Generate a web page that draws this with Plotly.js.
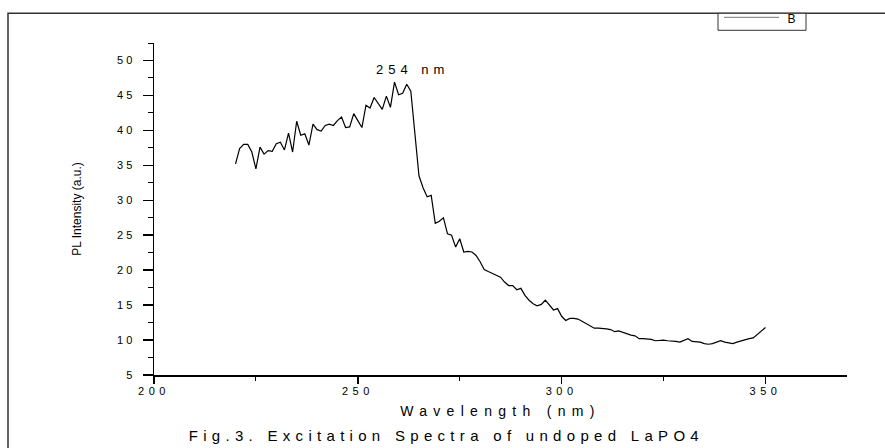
<!DOCTYPE html>
<html>
<head>
<meta charset="utf-8">
<script src="https://cdn.plot.ly/plotly-3.0.1.min.js"></script>
<style>
  html, body { margin: 0; padding: 0; background: #fff; }
  #chart { width: 885px; height: 448px; }
  .xtick text { letter-spacing: 4.5px; }
  .ytick text { letter-spacing: 3px; }
  .g-xtitle text { letter-spacing: 6.3px; }
  .annotation-text { letter-spacing: 5px; }
  .caption .annotation-text { letter-spacing: 5.3px; }
  .legendlabel .annotation-text { letter-spacing: 0; }
</style>
</head>
<body>
<div id="chart"></div>
<script>
// Wavelength (nm)
const wavelength = [
  220,221,222,223,224,225,226,227,228,229,
  230,231,232,233,234,235,236,237,238,239,
  240,241,242,243,244,245,246,247,248,249,
  250,251,252,253,254,255,256,257,258,259,
  260,261,262,263,264,265,266,267,268,269,
  270,271,272,273,274,275,276,277,278,279,
  280,281,282,283,284,285,286,287,288,289,
  290,291,292,293,294,295,296,297,298,299,
  300,301,302,303,304,305,306,307,308,309,
  310,311,312,313,314,315,316,317,318,319,
  320,321,322,323,324,325,326,327,328,329,
  330,331,332,333,334,335,336,337,338,339,
  340,341,342,343,344,345,346,347,348,349,
  350
];
// PL Intensity (a.u.)
const intensity = [
  35.2,37.4,38.0,38.0,36.9,34.5,37.6,36.6,37.1,37.0,
  38.1,38.3,37.2,39.6,36.9,41.3,39.3,39.5,37.9,40.9,
  40.1,39.9,40.7,40.9,40.7,41.4,41.9,40.4,40.5,42.4,
  41.4,40.4,43.6,43.2,44.7,43.8,43.0,44.9,43.3,46.9,
  45.1,45.3,46.6,45.6,39.5,33.5,31.8,30.5,30.7,26.7,
  27.0,27.5,25.2,25.0,23.3,24.5,22.6,22.7,22.6,22.1,
  21.2,20.1,19.8,19.5,19.2,19.0,18.3,17.8,17.8,17.2,
  17.4,16.4,15.7,15.2,14.9,15.1,15.7,15.0,14.3,14.5,
  13.4,12.8,13.1,13.1,13.0,12.7,12.4,12.0,11.7,11.7,
  11.7,11.6,11.5,11.2,11.3,11.1,10.8,10.7,10.6,10.2,
  10.2,10.2,10.1,9.9,10.0,10.0,9.9,9.9,9.8,9.7,
  10.0,10.2,9.8,9.8,9.7,9.5,9.4,9.5,9.7,9.9,
  9.7,9.6,9.5,9.7,9.9,10.0,10.2,10.3,10.8,11.4,
  11.8
];
const seriesName = "B";
const xTickVals = [200, 250, 300, 350];
const yTickVals = [5, 10, 15, 20, 25, 30, 35, 40, 45, 50];
const peakLabel = "254 nm";
const peakLabelPos = [263.3, 48.7];
const xTitle = "Wavelength (nm)";
const yTitle = "PL Intensity (a.u.)";
const caption = "Fig.3. Excitation Spectra of undoped LaPO4";

const FONT = "Liberation Sans, Arial, Helvetica, sans-serif";

// plot area in pixels: x 154..847, y 42.7..375
const L = 154, R = 847, T = 42.7, B = 375;
const px = v => (v - L) / (R - L);
const py = v => (B - v) / (B - T);

const trace = {
  x: wavelength, y: intensity, name: seriesName,
  type: "scatter", mode: "lines",
  line: { color: "#000", width: 1.2 },
  showlegend: false
};

const layout = {
  width: 885, height: 448,
  margin: { l: 154, r: 38, t: 43, b: 73, pad: 0 },
  paper_bgcolor: "#fff", plot_bgcolor: "#fff",
  font: { family: FONT, color: "#000", size: 11 },
  showlegend: false,
  xaxis: {
    range: [200, 370], showgrid: false, zeroline: false,
    showline: true, linecolor: "#000", linewidth: 1.5,
    ticks: "outside", ticklen: 7, tickwidth: 1.5, tickcolor: "#000",
    tickvals: xTickVals, ticktext: xTickVals.map(String),
    tickfont: { family: FONT, size: 11 },
    ticklabelstandoff: -2,
    minor: { tickvals: [225, 275, 325], ticks: "outside", ticklen: 4, tickwidth: 1, tickcolor: "#000" },
    title: { text: xTitle, font: { family: FONT, size: 14 }, standoff: 10 },
    automargin: false
  },
  yaxis: {
    range: [5, 52.5], showgrid: false, zeroline: false,
    showline: true, linecolor: "#000", linewidth: 1.5,
    ticks: "outside", ticklen: 10, tickwidth: 1.5, tickcolor: "#000",
    tickvals: yTickVals, ticktext: yTickVals.map(String),
    tickfont: { family: FONT, size: 11 },
    ticklabelstandoff: 5,
    minor: { dtick: 2.5, tick0: 5, ticks: "outside", ticklen: 5, tickwidth: 1, tickcolor: "#000" },
    title: { text: yTitle, font: { family: FONT, size: 12 }, standoff: 33 },
    automargin: false
  },
  shapes: [
    { // figure frame
      type: "rect", xref: "paper", yref: "paper",
      x0: px(8), x1: px(900), y0: py(470), y1: py(13),
      line: { color: "#333", width: 1.5 }, fillcolor: "rgba(0,0,0,0)", layer: "below"
    },
    { // legend box
      type: "rect", xref: "paper", yref: "paper",
      x0: px(718), x1: px(806), y0: py(30), y1: py(13),
      line: { color: "#333", width: 1 }, fillcolor: "#fff", layer: "above"
    },
    { // legend line sample
      type: "line", xref: "paper", yref: "paper",
      x0: px(724), x1: px(779), y0: py(17), y1: py(17),
      line: { color: "#777", width: 1 }, layer: "above"
    }
  ],
  annotations: [
    {
      text: peakLabel, x: peakLabelPos[0], y: peakLabelPos[1], xref: "x", yref: "y",
      showarrow: false, xanchor: "center", yanchor: "middle",
      font: { family: FONT, size: 13, color: "#000" }
    },
    {
      text: caption, x: px(446), y: py(436), xref: "paper", yref: "paper",
      showarrow: false, xanchor: "center", yanchor: "middle",
      font: { family: FONT, size: 15, color: "#000" }
    },
    {
      text: seriesName, x: px(791), y: py(18.5), xref: "paper", yref: "paper",
      showarrow: false, xanchor: "center", yanchor: "middle",
      font: { family: FONT, size: 12, color: "#000" }
    }
  ]
};

Plotly.newPlot("chart", [trace], layout, { staticPlot: true, displayModeBar: false }).then(function (gd) {
  const anns = gd.querySelectorAll(".annotation");
  if (anns.length > 1) anns[1].classList.add("caption");
  if (anns.length > 2) anns[2].classList.add("legendlabel");
});
</script>
</body>
</html>
